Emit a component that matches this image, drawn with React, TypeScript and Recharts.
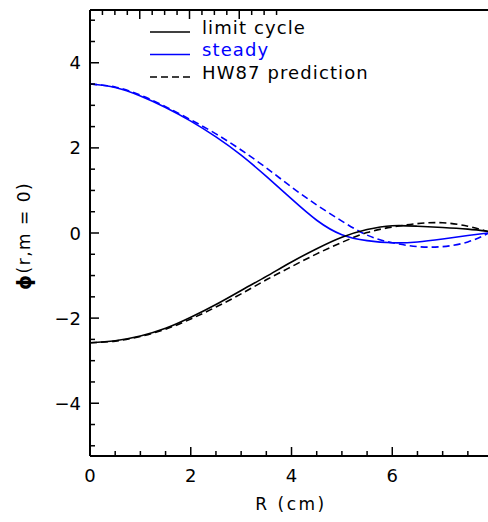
import React from "react";
import { LineChart, Line, XAxis, YAxis, Legend } from "recharts";

// --- Data ---

const RADIUS = [0, 0.5, 1, 1.5, 2, 2.5, 3, 3.5, 4, 4.5, 5, 5.5, 6, 6.5, 7, 7.5, 7.9];

const LIMIT_CYCLE = [
    -2.58, -2.53, -2.42, -2.24, -1.98, -1.68, -1.35, -1.02, -0.68, -0.37, -0.1, 0.08, 0.17, 0.16, 0.13, 0.09, 0.04,
];
const STEADY = [
    3.5, 3.42, 3.22, 2.95, 2.63, 2.26, 1.83, 1.33, 0.8, 0.3, -0.04, -0.18, -0.23, -0.21, -0.14, -0.06, 0.0,
];
const HW87_LIMIT = [
    -2.58, -2.54, -2.43, -2.26, -2.02, -1.74, -1.43, -1.1, -0.79, -0.49, -0.22, 0.01, 0.14, 0.22, 0.24, 0.16, 0.03,
];
const HW87_STEADY = [
    3.5, 3.43, 3.24, 2.97, 2.66, 2.33, 1.95, 1.53, 1.08, 0.66, 0.28, -0.05, -0.23, -0.32, -0.32, -0.21, -0.01,
];

const X_TICKS = [0, 0.5, 1, 1.5, 2, 2.5, 3, 3.5, 4, 4.5, 5, 5.5, 6, 6.5, 7, 7.5];
const Y_TICKS = [
    -5, -4.5, -4, -3.5, -3, -2.5, -2, -1.5, -1, -0.5, 0, 0.5, 1, 1.5, 2, 2.5, 3, 3.5, 4, 4.5, 5,
];

const LEGEND_ITEMS = [
    { label: "limit cycle", color: "#000000", dashed: false },
    { label: "steady", color: "#0000ff", dashed: false },
    { label: "HW87 prediction", color: "#000000", dashed: true },
];

const chartData = RADIUS.map((r, i) => ({
    r,
    limit: LIMIT_CYCLE[i],
    steady: STEADY[i],
    hwLimit: HW87_LIMIT[i],
    hwSteady: HW87_STEADY[i],
}));

// --- Styling ---

const FONT = "'DejaVu Sans', sans-serif";
const MAJOR_TICK = 9;
const MINOR_TICK = 5;
const STROKE_W = 1.6;
const DASH = "7 4";

const isMajor = (v: number) => Math.abs(v % 2) < 1e-6;
const fmt = (v: number) => (v < 0 ? "\u2212" + Math.abs(v) : String(v));

function BottomTick({ x, y, payload }: any)
{
    const major = isMajor(payload.value);
    return (
        <g>
            <line x1={x} y1={y} x2={x} y2={y - (major ? MAJOR_TICK : MINOR_TICK)} stroke="#000" strokeWidth={1.5} />
            {major && (
                <text x={x} y={y + 26} textAnchor="middle" fontFamily={FONT} fontSize={18} fill="#000">
                    {fmt(payload.value)}
                </text>
            )}
        </g>
    );
}

function TopTick({ x, y, payload }: any)
{
    const major = isMajor(payload.value);
    return <line x1={x} y1={y} x2={x} y2={y + (major ? MAJOR_TICK : MINOR_TICK)} stroke="#000" strokeWidth={1.5} />;
}

function LeftTick({ x, y, payload }: any)
{
    const major = isMajor(payload.value);
    return (
        <g>
            <line x1={x} y1={y} x2={x + (major ? MAJOR_TICK : MINOR_TICK)} y2={y} stroke="#000" strokeWidth={1.5} />
            {major && (
                <text x={x - 9} y={y + 6.5} textAnchor="end" fontFamily={FONT} fontSize={18} fill="#000">
                    {fmt(payload.value)}
                </text>
            )}
        </g>
    );
}

function YTitle({ viewBox }: any)
{
    const cx = viewBox.x + 24;
    const cy = 236;
    return (
        <text
            x={cx}
            y={cy}
            transform={`rotate(-90, ${cx}, ${cy})`}
            textAnchor="middle"
            dominantBaseline="central"
            fontFamily={FONT}
            fontSize={17}
            letterSpacing={1.5}
            fill="#000"
        >
            <tspan fontWeight="bold" fontSize={19}>{"\u03d5"}</tspan>(r,m = 0)
        </text>
    );
}

function XTitle({ viewBox }: any)
{
    return (
        <text
            x={viewBox.x + viewBox.width / 2 + 2}
            y={510}
            textAnchor="middle"
            fontFamily={FONT}
            fontSize={17}
            letterSpacing={2.5}
            fill="#000"
        >
            R (cm)
        </text>
    );
}

function LegendBox()
{
    return (
        <svg width={260} height={90} style={{ display: "block", overflow: "visible" }}>
            {LEGEND_ITEMS.map((item, i) => {
                const y = 20 + i * 22.5;
                return (
                    <g key={item.label}>
                        <line
                            x1={0}
                            x2={40}
                            y1={y}
                            y2={y}
                            stroke={item.color}
                            strokeWidth={STROKE_W}
                            strokeDasharray={item.dashed ? DASH : undefined}
                        />
                        <text
                            x={52}
                            y={y + 1.5}
                            fontFamily={FONT}
                            fontSize={18}
                            letterSpacing={1.1}
                            fill={item.color}
                        >
                            {item.label}
                        </text>
                    </g>
                );
            })}
        </svg>
    );
}

export default function App()
{
    return (
        <div style={{ position: "absolute", left: 0, top: 0, background: "#fff" }}>
            <LineChart width={488} height={522} data={chartData} margin={{ top: 0, right: 0, bottom: 0, left: 0 }}>
                <XAxis
                    dataKey="r"
                    type="number"
                    domain={[0, 7.9]}
                    allowDataOverflow
                    ticks={X_TICKS}
                    interval={0}
                    height={66}
                    tickSize={0}
                    tickMargin={0}
                    tickLine={false}
                    tick={<BottomTick />}
                    axisLine={{ stroke: "#000", strokeWidth: 2 }}
                    label={<XTitle />}
                />
                <XAxis
                    xAxisId="top"
                    orientation="top"
                    type="number"
                    domain={[0, 7.9]}
                    allowDataOverflow
                    ticks={X_TICKS}
                    interval={0}
                    height={10}
                    tickSize={0}
                    tickMargin={0}
                    tickLine={false}
                    tick={<TopTick />}
                    axisLine={{ stroke: "#000", strokeWidth: 2 }}
                />
                <YAxis
                    type="number"
                    domain={[-5.24, 5.24]}
                    allowDataOverflow
                    ticks={Y_TICKS}
                    interval={0}
                    width={90}
                    tickSize={0}
                    tickMargin={0}
                    tickLine={false}
                    tick={<LeftTick />}
                    axisLine={{ stroke: "#000", strokeWidth: 2 }}
                    label={<YTitle />}
                />
                <Legend
                    layout="vertical"
                    align="center"
                    verticalAlign="middle"
                    wrapperStyle={{ left: 150, top: 12, width: 260 }}
                    content={<LegendBox />}
                />
                <Line type="natural" dataKey="hwSteady" stroke="#0000ff" strokeWidth={STROKE_W} strokeDasharray={DASH} dot={false} isAnimationActive={false} />
                <Line type="natural" dataKey="hwLimit" stroke="#000000" strokeWidth={STROKE_W} strokeDasharray={DASH} dot={false} isAnimationActive={false} />
                <Line type="natural" dataKey="steady" stroke="#0000ff" strokeWidth={STROKE_W} dot={false} isAnimationActive={false} />
                <Line type="natural" dataKey="limit" stroke="#000000" strokeWidth={STROKE_W} dot={false} isAnimationActive={false} />
            </LineChart>
        </div>
    );
}
